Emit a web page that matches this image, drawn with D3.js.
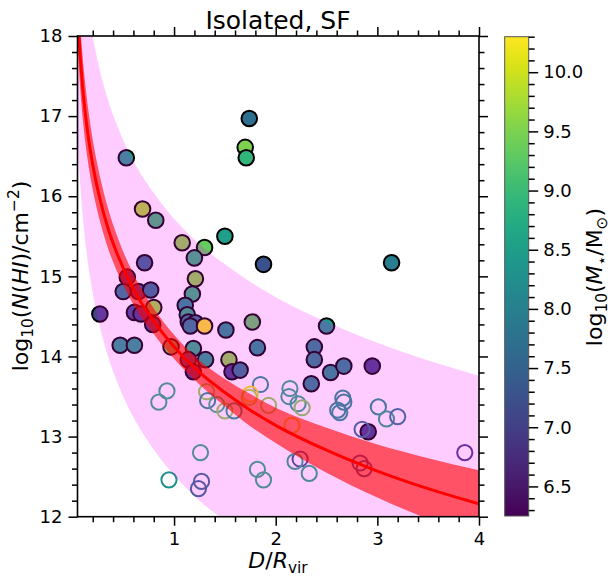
<!DOCTYPE html>
<html><head><meta charset="utf-8">
<script src="https://cdn.jsdelivr.net/npm/d3@7"></script>
<style>body{margin:0;background:#fff;} text{font-family:"DejaVu Sans",sans-serif;fill:#000;}</style>
</head><body><svg id="c" width="613" height="580" xmlns="http://www.w3.org/2000/svg"></svg>
<script>
// ---------------- data ----------------
const titleText = "Isolated, SF";
const xTicks = [1, 2, 3, 4];
const yTicks = [12, 13, 14, 15, 16, 17, 18];
const cTicks = [6.5, 7.0, 7.5, 8.0, 8.5, 9.0, 9.5, 10.0];

// model curve
const curveD   = [0.05,0.065,0.08,0.1,0.13,0.17,0.22,0.27,0.35,0.45,0.6,0.8,1.0,1.25,1.5,1.75,2.0,2.5,3.0,3.5,4.0];
const modelMid = [18.35,17.98,17.69,17.37,17.00,16.62,16.26,15.97,15.60,15.25,14.84,14.44,14.12,13.80,13.55,13.33,13.14,12.83,12.57,12.35,12.16];
const modelHi  = [18.77,18.39,18.09,17.75,17.36,16.95,16.56,16.25,15.85,15.47,15.03,14.60,14.27,13.95,13.72,13.53,13.36,13.11,12.90,12.73,12.58];
const modelLo  = [17.93,17.57,17.29,16.99,16.64,16.29,15.96,15.69,15.35,15.03,14.65,14.28,13.97,13.65,13.38,13.13,12.92,12.55,12.24,11.97,11.74];
const scatterHi = [19.95,19.58,19.29,18.97,18.60,18.22,17.86,17.57,17.20,16.85,16.44,16.04,15.72,15.40,15.15,14.93,14.74,14.43,14.17,13.95,13.76];
const scatterLo = [16.75,16.38,16.09,15.77,15.40,15.02,14.66,14.37,14.00,13.65,13.24,12.84,12.52,12.20,11.95,11.73,11.54,11.23,10.97,10.75,10.56];

// detections (filled)
const detD = [1.74,1.70,1.71,0.53,0.69,0.82,1.08,1.30,1.50,1.20,0.71,1.88,0.54,1.21,0.50,0.65,0.77,1.18,1.11,0.80,0.61,0.675,0.27,0.79,1.13,1.14,1.21,1.16,1.30,1.51,1.77,0.47,0.61,0.97,1.19,1.31,1.14,1.19,1.54,1.57,1.65,1.82,2.50,2.38,2.38,2.35,2.54,2.67,2.95,2.91,3.14];
const detN = [16.97,16.61,16.48,16.48,15.84,15.70,15.42,15.36,15.50,15.23,15.17,15.15,14.99,14.97,14.81,14.81,14.83,14.78,14.64,14.61,14.55,14.53,14.53,14.40,14.52,14.43,14.42,14.38,14.38,14.33,14.43,14.14,14.14,14.12,14.10,13.96,13.96,13.81,13.96,13.81,13.83,14.11,14.38,14.12,13.96,13.66,13.80,13.88,13.88,13.06,15.17];
const detM = [7.7,9.5,8.9,8.5,9.8,9.0,9.6,9.35,8.5,8.9,7.6,7.25,7.0,9.6,8.0,7.2,7.8,8.9,8.3,9.7,7.2,7.0,7.1,7.2,8.8,7.9,7.9,8.0,10.25,8.3,9.3,8.5,8.5,9.6,8.8,8.5,7.3,7.0,9.6,7.0,7.85,8.3,8.4,8.1,8.1,8.1,8.3,8.1,7.0,7.0,7.95];

// upper limits (open)
const limD = [0.93,0.85,1.32,1.33,1.42,1.50,1.59,1.85,1.75,1.74,1.93,1.26,0.95,1.27,1.24,1.82,1.88,2.14,2.13,2.22,2.26,2.16,2.66,2.67,2.61,2.63,3.01,3.09,3.20,2.85,2.24,2.19,2.33,2.83,2.87,3.86];
const limN = [13.57,13.43,13.56,13.45,13.40,13.32,13.32,13.65,13.53,13.49,13.39,12.80,12.46,12.44,12.35,12.59,12.46,13.60,13.50,13.41,13.36,13.14,13.48,13.43,13.33,13.30,13.37,13.22,13.25,13.09,12.72,12.69,12.54,12.67,12.60,12.80];
const limM = [8.8,8.8,9.6,8.3,8.9,9.6,8.5,8.3,10.2,9.8,9.6,8.8,8.3,7.8,7.7,8.8,8.8,8.7,8.7,8.7,9.5,10.1,8.3,8.3,8.3,8.4,8.3,8.7,7.9,7.8,7.3,8.7,8.7,7.2,7.3,7.0];

// ---------------- layout ----------------
const svg = d3.select("#c");
const L = 77.5, R = 479, T = 36, B = 516.7;
const x = d3.scaleLinear().domain([0.05, 4]).range([L, R]);
const y = d3.scaleLinear().domain([12, 18]).range([B, T]);
const cmin = 6.25, cmax = 10.3;
const color = d3.scaleSequential(d3.interpolateViridis).domain([cmin, cmax]);

const defs = svg.append("defs");
defs.append("clipPath").attr("id", "plotclip").append("rect")
  .attr("x", L).attr("y", T).attr("width", R - L).attr("height", B - T);

const plot = svg.append("g").attr("clip-path", "url(#plotclip)");

// points
const det = detD.map((d, i) => ({D: d, N: detN[i], M: detM[i]}));
const lim = limD.map((d, i) => ({D: d, N: limN[i], M: limM[i]}));

plot.append("g").selectAll("circle").data(det).join("circle")
  .attr("cx", d => x(d.D)).attr("cy", d => y(d.N)).attr("r", 7.8)
  .attr("fill", d => color(d.M)).attr("stroke", "#000").attr("stroke-width", 2);

plot.append("g").selectAll("circle").data(lim).join("circle")
  .attr("cx", d => x(d.D)).attr("cy", d => y(d.N)).attr("r", 7.6)
  .attr("fill", "none").attr("stroke", d => color(d.M)).attr("stroke-width", 2);

// bands
const idx = curveD.map((d, i) => i);
const pinkArea = d3.area().x(i => x(curveD[i])).y0(i => y(scatterLo[i])).y1(i => y(scatterHi[i])).curve(d3.curveMonotoneX);
plot.append("path").attr("d", pinkArea(idx)).attr("fill", "#ff00ff").attr("fill-opacity", 0.2);
const redArea = d3.area().x(i => x(curveD[i])).y0(i => y(modelLo[i])).y1(i => y(modelHi[i])).curve(d3.curveMonotoneX);
plot.append("path").attr("d", redArea(idx)).attr("fill", "#ff0000").attr("fill-opacity", 0.6);
const redLine = d3.line().x(i => x(curveD[i])).y(i => y(modelMid[i])).curve(d3.curveMonotoneX);
plot.append("path").attr("d", redLine(idx)).attr("fill", "none").attr("stroke", "#ff0000").attr("stroke-width", 3);

// ---------------- axes ----------------
const FS = 18;
function styleAxis(g) {
  g.select(".domain").remove();
  g.selectAll("line").attr("stroke", "#000").attr("stroke-width", 1.5);
  g.selectAll("text").attr("font-size", FS).attr("font-family", "DejaVu Sans").attr("fill", "#000");
}
const xMinor = d3.range(1, 21).filter(i => i % 5).map(i => i / 5);
const yMinor = d3.range(60, 91).filter(i => i % 5).map(i => i / 5);

svg.append("g").attr("transform", `translate(0,${B})`)
  .call(d3.axisBottom(x).tickValues(xTicks).tickFormat(d3.format("d")).tickSize(9).tickPadding(7).tickSizeOuter(0)).call(styleAxis);
svg.append("g").attr("transform", `translate(0,${B})`)
  .call(d3.axisBottom(x).tickValues(xMinor).tickFormat("").tickSize(5.5).tickSizeOuter(0)).call(styleAxis);
svg.append("g").attr("transform", `translate(0,${T})`)
  .call(d3.axisTop(x).tickValues(xTicks).tickFormat("").tickSize(9).tickSizeOuter(0)).call(styleAxis);
svg.append("g").attr("transform", `translate(0,${T})`)
  .call(d3.axisTop(x).tickValues(xMinor).tickFormat("").tickSize(5.5).tickSizeOuter(0)).call(styleAxis);
svg.append("g").attr("transform", `translate(${L},0)`)
  .call(d3.axisLeft(y).tickValues(yTicks).tickFormat(d3.format("d")).tickSize(9).tickPadding(6).tickSizeOuter(0)).call(styleAxis);
svg.append("g").attr("transform", `translate(${L},0)`)
  .call(d3.axisLeft(y).tickValues(yMinor).tickFormat("").tickSize(5.5).tickSizeOuter(0)).call(styleAxis);
svg.append("g").attr("transform", `translate(${R},0)`)
  .call(d3.axisRight(y).tickValues(yTicks).tickFormat("").tickSize(9).tickSizeOuter(0)).call(styleAxis);
svg.append("g").attr("transform", `translate(${R},0)`)
  .call(d3.axisRight(y).tickValues(yMinor).tickFormat("").tickSize(5.5).tickSizeOuter(0)).call(styleAxis);

svg.append("rect").attr("x", L).attr("y", T).attr("width", R - L).attr("height", B - T)
  .attr("fill", "none").attr("stroke", "#000").attr("stroke-width", 1.6);

// ---------------- colorbar ----------------
const cbX = 504.7, cbW = 24, cbT = 36.7, cbB = 516;
const cy = d3.scaleLinear().domain([cmin, cmax]).range([cbB, cbT]);
const grad = defs.append("linearGradient").attr("id", "vir").attr("x1", 0).attr("y1", 1).attr("x2", 0).attr("y2", 0);
d3.range(0, 101).forEach(i => grad.append("stop").attr("offset", i / 100).attr("stop-color", d3.interpolateViridis(i / 100)));
svg.append("rect").attr("x", cbX).attr("y", cbT).attr("width", cbW).attr("height", cbB - cbT)
  .attr("fill", "url(#vir)").attr("stroke", "#555").attr("stroke-width", 1);
const cMinor = d3.range(63, 104).filter(i => i % 5).map(i => i / 10);
svg.append("g").attr("transform", `translate(${cbX + cbW},0)`)
  .call(d3.axisRight(cy).tickValues(cTicks).tickFormat(d3.format(".1f")).tickSize(9.5).tickPadding(5).tickSizeOuter(0)).call(styleAxis);
svg.append("g").attr("transform", `translate(${cbX + cbW},0)`)
  .call(d3.axisRight(cy).tickValues(cMinor).tickFormat("").tickSize(6).tickSizeOuter(0)).call(styleAxis);

// ---------------- text ----------------
svg.append("text").attr("x", 278).attr("y", 29).attr("text-anchor", "middle").attr("font-size", 25).text(titleText);

function rich(parent, parts, size) {
  let shift = 0;
  parts.forEach(([t, s]) => {
    const ts = parent.append("tspan").text(t);
    let target = 0, fs = size;
    if (s === "sub" || s === "isub") { target = 0.22 * size; fs = size * 0.7; }
    if (s === "sup") { target = -0.42 * size; fs = size * 0.7; }
    ts.attr("font-size", fs).attr("dy", target - shift);
    shift = target;
    if (s === "i" || s === "isub") ts.attr("font-style", "italic");
  });
}
const LS = 22;
const xl = svg.append("text").attr("x", 278).attr("y", 568).attr("text-anchor", "middle").attr("font-size", LS);
rich(xl, [["D", "i"], ["/", ""], ["R", "i"], ["vir", "sub"]], LS);

const yl = svg.append("text").attr("transform", "translate(28,276) rotate(-90)").attr("text-anchor", "middle").attr("font-size", LS);
rich(yl, [["log", ""], ["10", "sub"], ["(", ""], ["N", "i"], ["(", ""], ["HI", "i"], [")/cm", ""], ["\u22122", "sup"], [")", ""]], LS);

const cl = svg.append("text").attr("transform", "translate(602,277) rotate(-90)").attr("text-anchor", "middle").attr("font-size", LS);
rich(cl, [["log", ""], ["10", "sub"], ["(", ""], ["M", "i"], ["\u22c6", "sub"], ["/M", ""], ["\u2299", "sub"], [")", ""]], LS);
</script></body></html>
